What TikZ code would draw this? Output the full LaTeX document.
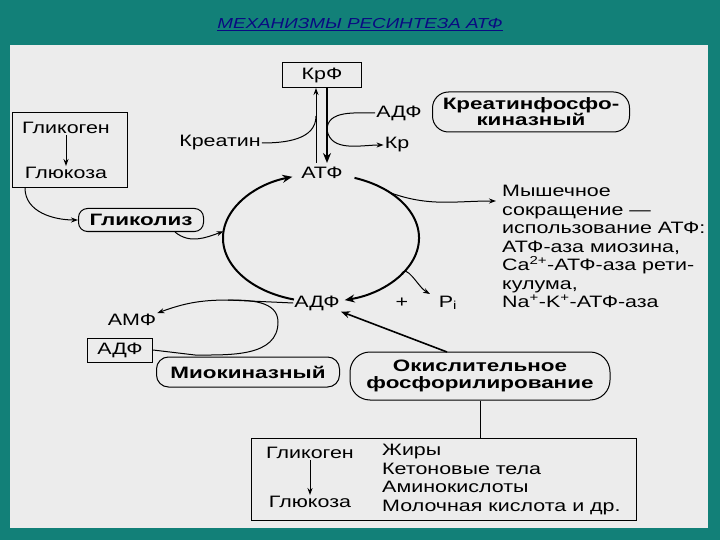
\documentclass[tikz,border=0pt]{standalone}
\usepackage{fontspec}
\setmainfont[FakeStretch=1.3]{Liberation Sans}
\newfontfamily\bsans[FakeStretch=1.36]{Liberation Sans}
\usetikzlibrary{arrows.meta}
\definecolor{teal1}{RGB}{18,128,120}
\definecolor{paper}{RGB}{236,236,236}
\definecolor{ttl}{RGB}{10,10,130}
\begin{document}
\begin{tikzpicture}[x=1pt,y=-1pt,
  lbl/.style={font=\fontsize{16.5}{18.5}\selectfont, inner sep=1pt},
  blbl/.style={font=\fontsize{16.5}{19}\selectfont\bsans\bfseries, inner sep=1pt},
  sq/.style={draw, line width=1pt, fill=paper},
  rb/.style={draw, line width=1pt, rounded corners=12pt, fill=paper},
  ln/.style={line width=1pt},
  ar/.style={line width=1pt,-{Stealth[length=7pt,width=5pt]}},
  bar/.style={line width=2pt,-{Stealth[length=10pt,width=8pt]}}]
\fill[teal1] (0,0) rectangle (720,540);
\useasboundingbox (0,0) rectangle (720,540);
\fill[paper] (10,45) rectangle (708,528);
\node[font=\fontsize{14.5}{16}\selectfont\itshape, text=ttl] (title) at (360,25) {\underline{МЕХАНИЗМЫ РЕСИНТЕЗА АТФ}};
% top
\node[sq, minimum width=79, minimum height=25, lbl] (krf) at (322,75) {КрФ};
\node[lbl] (atf) at (322,173) {АТФ};
\coordinate (upb) at (316,163);
\coordinate (upt) at (316,88);
\coordinate (dnt) at (327,88);
\coordinate (dnb) at (327,163);
\draw[ar] (upb) -- (upt);
\draw[bar] (dnt) -- (dnb);
\node[lbl] (kreatin) at (220,143) {Креатин};
\coordinate (kj) at (316,116);
\draw[ln] (kreatin.east) to[out=0,in=-90] (kj);
\node[lbl] (adf1) at (399,113) {АДФ};
\coordinate (aj) at (327,130);
\draw[ln] (adf1.west) to[out=180,in=90] (aj);
\node[lbl] (kr) at (397,145) {Кр};
\draw[ar] (aj) to[out=-80,in=180] (kr.west);
\node[rb, rounded corners=16pt, minimum width=197, minimum height=40, align=center, blbl] (ckf) at (531,112) {Креатинфосфо-\\[-3pt]киназный};
% left glycogen
\node[sq, minimum width=115, minimum height=75] (glbox) at (70,150) {};
\node[lbl] (glk) at (66,128) {Гликоген};
\node[lbl] (glu) at (66,173) {Глюкоза};
\draw[ar] (glk.south) -- (glu.north);
\node[rb, rounded corners=9pt, minimum width=125, minimum height=23, blbl] (glyc) at (141,220) {Гликолиз};
\draw[ar] (25,188) to[out=-90,in=180] (glyc.west);
% cycle
\coordinate (c) at (321,238);
\draw[bar] ([shift={(106:98 and 64)}]c) arc[start angle=106, end angle=253, x radius=98, y radius=64];
\draw[bar] ([shift={(-70:98 and 64)}]c) arc[start angle=-70, end angle=76, x radius=98, y radius=64];
\draw[ar] (175,232) to[out=-40,in=200] ([shift={(186:98 and 64)}]c);
\node[lbl, align=left, anchor=north west] (mus) at (501,184) {Мышечное\\сокращение —\\использование АТФ:\\АТФ-аза миозина,\\Ca\textsuperscript{2+}-АТФ-аза рети-\\кулума,\\Na\textsuperscript{+}-K\textsuperscript{+}-АТФ-аза};
\draw[ar] ([shift={(-45:98 and 64)}]c) to[out=-20,in=180] (496,201);
\node[lbl] (adf2) at (317,303) {АДФ};
\node[lbl] (plus) at (402,303) {+};
\node[lbl] (pi) at (448,303) {P\textsubscript{i}};
\draw[ar] ([shift={(35:98 and 64)}]c) to[out=70,in=150] (430,294);
% myokinase
\node[lbl] (amf) at (132,320) {АМФ};
\node[sq, minimum width=65, minimum height=24, lbl] (adf3) at (120,350) {АДФ};
\node[rb, minimum width=183, minimum height=30, blbl] (myo) at (248,372) {Миокиназный};
\coordinate (lt) at (228,300);
\draw[ar] (lt) to[out=180,in=20] (amf.north east);
\draw[ln] (adf2.west) -- (lt);
\draw[ln] (adf3.east) -- (195,355) to[out=0,in=-90] (278,322) to[out=90,in=0] (lt);
\node[rb, rounded corners=20pt, minimum width=260, minimum height=48, align=center, blbl] (ox) at (480,376) {Окислительное\\[-2pt]фосфорилирование};
\draw[line width=1.6pt,-{Stealth[length=9pt,width=7pt]}] (447,352) -- (adf2.south east);
% bottom box
\node[sq, minimum width=385, minimum height=82] (bb) at (444,479) {};
\draw[ln] (ox.south) -- (bb.north -| ox.south);
\node[lbl] (g2) at (310,453) {Гликоген};
\node[lbl] (u2) at (310,502) {Глюкоза};
\draw[ar] (g2.south) -- (u2.north);
\node[lbl, align=left, anchor=north west] (fuel) at (381,443) {Жиры\\Кетоновые тела\\Аминокислоты\\Молочная кислота и др.};
\end{tikzpicture}
\end{document}
